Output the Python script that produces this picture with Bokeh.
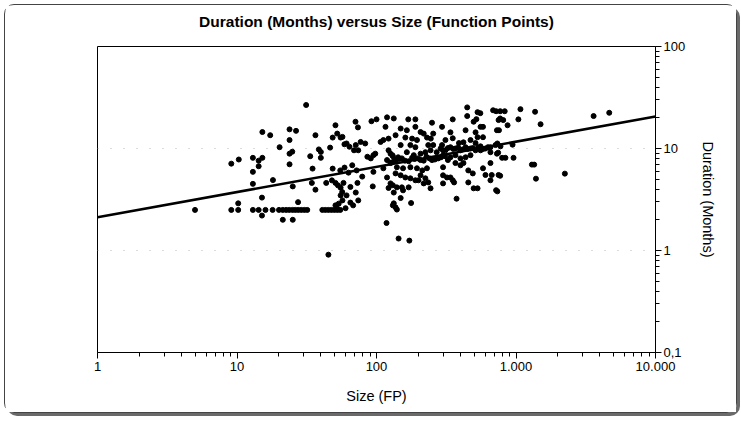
from bokeh.plotting import figure
from bokeh.models import FixedTicker, Title
from bokeh.embed import file_html
from bokeh.resources import INLINE

TITLE = "Duration (Months) versus Size (Function Points)"
X_LABEL = "Size (FP)"
Y_LABEL = "Duration (Months)"

x_ticks = [1, 10, 100, 1000, 10000]
x_tick_labels = ["1", "10", "100", "1.000", "10.000"]
y_ticks = [0.1, 1, 10, 100]
y_tick_labels = ["0,1", "1", "10", "100"]

# (size in function points, duration in months)
projects = [
    (5, 2.5), (9.1, 7.1), (10.3, 7.8), (9.1, 2.5), (10.2, 2.5), (10.2, 2.9), (13, 8.1), (13, 5.9),
    (13, 4.5), (14.3, 7.6), (14.3, 6.7), (15.2, 14.5), (15.2, 8.1), (15.1, 3.3), (15.1, 2.2),
    (17.3, 13.5), (18.1, 4.9), (13, 2.5), (14.3, 2.5), (16, 2.5), (18, 2.5), (20, 2.5), (21.3, 2.5),
    (22.5, 2.5), (23.7, 2.5), (21.3, 2.0), (20.2, 10.3), (23.8, 15.4), (23.8, 12.1), (23.8, 8.9),
    (23.8, 7.0),
    (31.3, 26.7), (26.5, 14.9), (24.9, 9.3), (36.5, 13.5), (33.5, 8.4), (38.6, 9.8), (39.9, 9.25),
    (39.9, 8.1), (50.8, 16.9), (48.5, 12.8), (52.3, 14.0), (55.3, 12.8), (46.5, 10.2), (58.9, 11.0),
    (34.8, 6.35), (25.1, 4.25), (34.4, 4.6), (36.5, 3.95), (43.6, 4.6), (48.5, 6.35), (47.9, 4.87),
    (50.8, 4.6), (52.9, 4.35), (55.3, 4.13), (56.8, 3.74), (55.3, 3.47), (50.8, 2.77), (53.6, 2.88),
    (52.3, 2.57), (27.4, 2.98), (25, 2.5), (26.2, 2.5), (27.5, 2.5), (28.9, 2.5), (30.4, 2.5),
    (31.9, 2.5), (40.9, 2.5), (43, 2.5), (45.2, 2.5), (47.5, 2.5), (49.9, 2.5), (52.4, 2.5), (55, 2.5),
    (25.1, 2.0), (45.2, 0.91),
    (70.7, 18.3), (73.6, 16.1), (92, 18.5), (100, 19.3), (116, 16.3), (119, 20.2), (133, 19.7),
    (57, 13.0), (61, 11.2), (64, 10.4), (71, 10.8), (69, 9.6), (74, 9.6), (83, 11.2), (77, 11.6),
    (86, 8.3), (95, 8.6), (98, 8.9), (91, 8.0), (107, 11.6), (112, 12.1), (122, 12.5), (122, 9.6),
    (126, 8.9), (131, 8.4), (135, 7.7), (119, 7.7), (128, 7.3),
    (59, 6.5), (67, 6.85), (55, 6.1), (63, 5.8), (72, 6.1), (79, 5.3), (58, 4.6), (65, 4.2), (73, 4.6),
    (71, 3.7), (61, 3.47), (57, 3.1), (65, 2.95), (74, 3.1), (68, 2.77), (60, 2.6),
    (94, 4.25), (95, 5.9), (112, 6.4), (119, 5.2), (126, 4.55), (122, 4.1), (131, 2.77), (118, 1.86),
    (133, 3.7),
    (169, 19.3), (190, 19.3), (250, 17.9), (295, 16.3), (149, 15.7), (165, 15.1), (190, 16.3),
    (207, 14.5), (218, 14.0), (137, 13.5), (161, 12.8), (180, 12.5), (195, 12.1), (230, 12.8),
    (255, 14.0), (245, 12.5), (149, 10.8), (175, 10.8), (190, 10.3), (235, 10.8), (255, 10.8),
    (295, 10.8), (130, 8.6), (143, 8.2), (165, 9.2), (185, 8.6), (207, 8.9), (224, 9.2), (244, 9.6),
    (270, 9.2), (300, 9.6), (137, 7.7), (152, 8.0), (170, 7.5), (188, 7.9), (207, 7.7), (228, 8.3),
    (250, 7.7), (277, 8.0), (310, 8.4), (126, 7.2), (140, 6.55), (155, 6.4), (175, 6.55), (195, 6.4),
    (213, 6.1), (230, 6.4), (137, 5.7), (149, 5.46), (161, 5.2), (175, 5.1), (190, 4.88), (207, 5.46),
    (224, 5.1), (235, 4.65), (244, 4.07), (131, 4.36), (140, 4.16), (152, 4.16), (155, 3.89),
    (170, 4.16), (200, 4.88), (218, 4.55), (149, 3.27), (177, 2.92), (133, 2.9), (137, 2.65),
    (140, 2.52), (144, 1.31), (172, 1.25),
    (145, 7.9), (160, 7.6), (180, 8.1), (198, 8.0), (218, 7.6), (240, 8.0), (262, 7.8), (290, 8.2),
    (447, 25.3), (530, 22.7), (555, 22.2), (685, 23.7), (352, 19.3), (447, 20.8), (497, 18.3),
    (520, 19.4), (557, 16.3), (580, 16.3), (750, 19.0), (339, 14.4), (435, 15.1), (513, 14.4),
    (530, 12.9), (580, 12.9), (312, 12.1), (352, 12.6), (390, 11.3), (420, 11.5), (472, 12.1),
    (513, 11.3), (288, 10.0), (312, 9.6), (339, 10.3), (368, 10.0), (400, 9.6), (435, 10.3),
    (472, 10.0), (513, 9.6), (557, 10.5), (604, 10.0), (656, 10.3), (713, 10.8), (774, 10.5),
    (325, 10.1), (355, 9.9), (385, 10.2), (415, 9.8), (450, 9.9), (490, 10.1), (535, 10.2),
    (580, 9.9), (630, 10.3),
    (300, 8.6), (339, 8.2), (368, 8.6), (400, 8.0), (435, 8.2), (472, 8.6), (557, 9.6), (656, 9.2),
    (730, 8.9), (300, 6.55), (325, 7.7), (368, 7.2), (400, 6.85), (420, 7.2), (455, 6.1), (490, 5.7),
    (580, 6.4), (604, 5.5), (656, 7.2), (670, 5.5), (750, 5.5), (300, 5.46), (320, 5.2), (339, 5.2),
    (352, 4.88), (360, 4.65), (300, 4.55), (455, 4.65), (497, 4.07), (530, 4.07), (656, 4.88),
    (720, 3.9), (375, 3.22),
    (3600, 20.8), (4660, 22.4), (1076, 24.3), (1370, 22.9), (1040, 19.3), (1500, 17.3), (770, 23.2),
    (830, 23.2), (720, 23.2), (770, 19.7), (810, 19.0), (870, 16.9), (730, 15.1), (755, 15.1),
    (735, 11.2), (945, 10.9), (745, 9.1), (795, 8.1), (840, 8.1), (960, 8.1), (1300, 6.95),
    (1350, 6.95), (770, 5.4), (1390, 5.06), (2240, 5.67), (735, 3.8),
]
size_fp = [pt[0] for pt in projects]
duration_months = [pt[1] for pt in projects]

# regression line end points
fit_size = [1, 10000]
fit_duration = [2.12, 20.6]

FONT = "Liberation Sans"

p = figure(
    x_axis_type="log", y_axis_type="log",
    x_range=(1, 10000), y_range=(0.1, 100),
    frame_width=558, frame_height=306,
    min_border_left=92, min_border_right=81, min_border_top=41, min_border_bottom=60,
    y_axis_location="right",
    output_backend="svg", toolbar_location=None,
)
p.styles = {
    "margin-left": "4px", "margin-top": "4px",
    "border": "1px solid #444", "border-radius": "10px",
    "box-shadow": "3px 3px 0 #6a6a6a",
}

# blank spacer between frame and title, then the title itself
spacer = Title(text=" ", text_font_size="10px", standoff=4)
main_title = Title(text=TITLE, align="center", vertical_align="bottom", standoff=0,
                   text_font=FONT, text_font_size="15.5px", text_font_style="bold",
                   text_color="black")
p.add_layout(spacer, "above")
p.add_layout(main_title, "above")

p.outline_line_color = "black"
p.outline_line_width = 1

p.xgrid.visible = False
p.ygrid.ticker = FixedTicker(ticks=[1, 10])
p.ygrid.grid_line_color = "#b8b8b8"
p.ygrid.grid_line_dash = "1 12"
p.ygrid.grid_line_width = 1

x_minor = [m * 10 ** k for k in range(4) for m in range(2, 10)]
y_minor = [m * 10.0 ** k for k in range(-1, 2) for m in range(2, 10)]

xa = p.xaxis[0]
xa.ticker = FixedTicker(ticks=x_ticks, minor_ticks=x_minor)
xa.major_label_overrides = {t: l for t, l in zip(x_ticks, x_tick_labels)}
xa.axis_label = X_LABEL

ya = p.yaxis[0]
ya.ticker = FixedTicker(ticks=y_ticks, minor_ticks=y_minor)
ya.major_label_overrides = {t: l for t, l in zip(y_ticks, y_tick_labels)}
ya.axis_label = Y_LABEL

for ax in (xa, ya):
    ax.axis_line_color = "black"
    ax.major_tick_line_color = "black"
    ax.minor_tick_line_color = "black"
    ax.major_tick_in = 0
    ax.major_tick_out = 6
    ax.minor_tick_in = 0
    ax.minor_tick_out = 4
    ax.major_label_text_font = FONT
    ax.major_label_text_font_size = "13px"
    ax.major_label_text_color = "black"
    ax.axis_label_text_font = FONT
    ax.axis_label_text_font_size = "14.5px"
    ax.axis_label_text_font_style = "normal"
    ax.axis_label_text_color = "black"

xa.major_label_standoff = 3
xa.axis_label_standoff = 14
ya.major_label_standoff = 2
ya.axis_label_standoff = 12

p.scatter(size_fp, duration_months, size=5, color="black")
p.line(fit_size, fit_duration, line_width=2.6, color="black")

open("out.html", "w").write(file_html(p, INLINE))
